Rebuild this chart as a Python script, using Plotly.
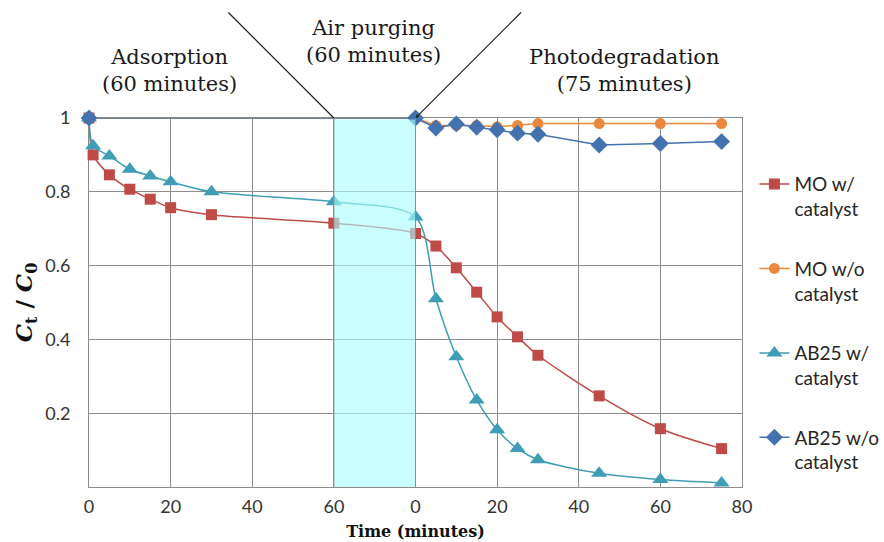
import plotly.graph_objects as go

# ---- data ----
ads_t = [0, 1, 5, 10, 15, 20, 30, 60]          # adsorption phase times (min)
photo_t = [0, 5, 10, 15, 20, 25, 30, 45, 60, 75]  # photodegradation times (min)

mo_cat_ads = [1.0, 0.90, 0.846, 0.807, 0.780, 0.757, 0.738, 0.715]
ab_cat_ads = [1.0, 0.925, 0.897, 0.861, 0.843, 0.827, 0.800, 0.773]
mo_cat_photo = [0.687, 0.653, 0.594, 0.528, 0.461, 0.407, 0.357, 0.247, 0.158, 0.104]
ab_cat_photo = [0.732, 0.510, 0.353, 0.236, 0.155, 0.104, 0.074, 0.037, 0.020, 0.011]

mo_nocat_ads_t = [0]
mo_nocat_ads = [1.0]
mo_nocat_photo = [1.0, 0.980, 0.980, 0.980, 0.976, 0.980, 0.985, 0.985, 0.985, 0.985]
ab_nocat_ads_t = [0]
ab_nocat_ads = [1.0]
ab_nocat_photo = [1.0, 0.973, 0.984, 0.975, 0.968, 0.959, 0.956, 0.927, 0.931, 0.936]

ADS_LEN = 60     # adsorption phase length on axis
PURGE_LEN = 20   # width given to air-purge band on axis
PHOTO_OFF = ADS_LEN + PURGE_LEN

tick_vals = [0, 20, 40, 60, 80, 100, 120, 140, 160]
tick_text = ["0", "20", "40", "60", "0", "20", "40", "60", "80"]
y_ticks = [0.2, 0.4, 0.6, 0.8, 1.0]
y_text = ["0.2", "0.4", "0.6", "0.8", "1"]

def px(ads, photo):
    return list(ads) + [PHOTO_OFF + t for t in photo]

series = [
    ("MO w/<br>catalyst", px(ads_t, photo_t), mo_cat_ads + mo_cat_photo, "#BE4B48", "square", 11, "spline"),
    ("MO w/o<br>catalyst", px(mo_nocat_ads_t, photo_t), mo_nocat_ads + mo_nocat_photo, "#E8893F", "circle", 11, "linear"),
    ("AB25 w/<br>catalyst", px(ads_t, photo_t), ab_cat_ads + ab_cat_photo, "#3F9DB5", "triangle-up", 14, "spline"),
    ("AB25 w/o<br>catalyst", px(ab_nocat_ads_t, photo_t), ab_nocat_ads + ab_nocat_photo, "#4472AE", "diamond", 13, "linear"),
]

fig = go.Figure()
for i, (name, xs, ys, col, sym, sz, shp) in enumerate(series):
    fig.add_trace(go.Scatter(
        x=xs, y=ys, name=name, mode="lines+markers", cliponaxis=False,
        line=dict(color=col, width=1.5, shape=shp, smoothing=0.8),
        marker=dict(symbol=sym, size=sz, color=col),
        legendgroup=f"g{i}",
    ))

grid = "#8C8C8C"
sans = "Lato, Liberation Sans, sans-serif"
tickfont = dict(family=sans, size=18, color="#333333")
serif = "DejaVu Serif, Liberation Serif, serif"

fig.update_layout(
    width=884, height=542,
    margin=dict(l=89, r=142, t=118, b=55, autoexpand=False),
    paper_bgcolor="white", plot_bgcolor="white",
    showlegend=True,
    legend=dict(x=1.019, y=0.872, xanchor="left", yanchor="top",
                font=dict(family=sans, size=19, color="#262626"),
                tracegroupgap=32, valign="top", bgcolor="rgba(0,0,0,0)"),
    xaxis=dict(range=[0, 160], tickvals=tick_vals, ticktext=tick_text,
               showgrid=True, gridcolor=grid, gridwidth=1,
               showline=True, linecolor=grid, linewidth=1, mirror=True,
               layer="below traces", automargin=False,
               zeroline=False, ticks="", tickfont=tickfont, ticklabelstandoff=3,
               title=dict(text="<b>Time (minutes)</b>",
                          font=dict(family=serif, size=16, color="#111111"), standoff=10)),
    yaxis=dict(range=[0, 1], tickvals=y_ticks, ticktext=y_text,
               showgrid=True, gridcolor=grid, gridwidth=1,
               showline=True, linecolor=grid, linewidth=1, mirror=True,
               layer="below traces", automargin=False,
               zeroline=False, ticks="", tickfont=tickfont, ticklabelstandoff=14,
               title=dict(text="<b><i>C</i><sub>t</sub> / <i>C</i><sub>0</sub></b>",
                          font=dict(family=serif, size=23, color="#111111"), standoff=6)),
)

# air purging band (drawn translucent over the data)
fig.add_shape(type="rect", xref="x", yref="y", x0=ADS_LEN, x1=PHOTO_OFF, y0=0, y1=0.996,
              fillcolor="rgba(170,255,255,0.62)", line=dict(width=0), layer="above")
fig.add_shape(type="line", xref="x", yref="y", x0=ADS_LEN, x1=ADS_LEN, y0=0, y1=1,
              line=dict(color=grid, width=1), layer="above")
fig.add_shape(type="line", xref="x", yref="y", x0=PHOTO_OFF, x1=PHOTO_OFF, y0=0, y1=1,
              line=dict(color=grid, width=1), layer="above")

# diagonal pointer lines
fig.add_annotation(x=ADS_LEN, y=1, xref="x", yref="y", text="", showarrow=True,
                   ax=-107, ay=-107, arrowhead=0, arrowwidth=1.2, arrowcolor="#222222")
fig.add_annotation(x=PHOTO_OFF, y=1, xref="x", yref="y", text="", showarrow=True,
                   ax=107, ay=-107, arrowhead=2, arrowsize=0.6, arrowwidth=1.2, arrowcolor="#222222")

lab_font = dict(family=serif, size=21, color="#1a1a1a")
fig.add_annotation(x=19.8, y=1.1287, xref="x", yref="paper", text="Adsorption<br>(60 minutes)",
                   showarrow=False, font=lab_font, yanchor="middle", align="center")
fig.add_annotation(x=69.7, y=1.2073, xref="x", yref="paper", text="Air purging<br>(60 minutes)",
                   showarrow=False, font=lab_font, yanchor="middle", align="center")
fig.add_annotation(x=131.2, y=1.1287, xref="x", yref="paper", text="Photodegradation<br>(75 minutes)",
                   showarrow=False, font=lab_font, yanchor="middle", align="center")

fig.write_html("out.html")
